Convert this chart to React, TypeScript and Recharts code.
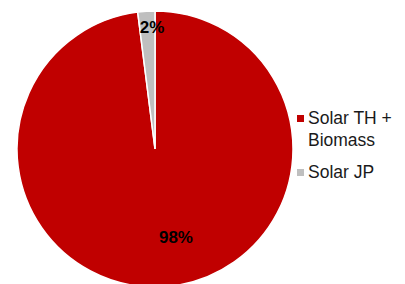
import { Cell, Legend, Pie, PieChart } from "recharts"

const sources = ["Solar TH + Biomass", "Solar JP"]
const shares = [98, 2]

const data = sources.map((name, i) => ({ name, value: shares[i] }))

const COLORS = ["#C00000", "#BFBFBF"]
// label placement tweaks (radius fraction, angle shift in degrees) to mimic Excel's best-fit
const LABEL_POS = [
  { r: 0.656, shift: 9.8 },
  { r: 0.884, shift: -2.2 },
]

const RAD = Math.PI / 180

const renderLabel = (props: any) => {
  const { cx, cy, midAngle, outerRadius, index, value } = props
  const pos = LABEL_POS[index] ?? { r: 0.7, shift: 0 }
  const a = (midAngle + pos.shift) * RAD
  const r = outerRadius * pos.r
  const x = cx + r * Math.cos(a)
  const y = cy - r * Math.sin(a)
  return (
    <text
      x={x}
      y={y}
      textAnchor="middle"
      dominantBaseline="central"
      fill="#000"
      fontWeight="bold"
      fontSize={17}
      fontFamily="Liberation Sans, Arial, sans-serif"
    >
      {`${value}%`}
    </text>
  )
}

const renderLegend = () => (
  <div style={{ fontFamily: "Liberation Sans, Arial, sans-serif", fontSize: 17.5, color: "#1a1a1a", lineHeight: "22px" }}>
    {data.map((d, i) => (
      <div key={d.name} style={{ display: "flex", alignItems: "flex-start", marginBottom: 10 }}>
        <span
          style={{
            display: "inline-block",
            width: 7,
            height: 7,
            background: COLORS[i],
            marginTop: 8,
            marginRight: 4,
            flex: "none",
          }}
        />
        <span style={{ width: 94 }}>{d.name}</span>
      </div>
    ))}
  </div>
)

export default function App() {
  return (
    <div style={{ position: "absolute", left: 0, top: 0, width: 405, height: 284, background: "#fff" }}>
      <PieChart width={405} height={284} margin={{ top: 0, right: 0, bottom: 0, left: 0 }}>
        <Pie
          data={data}
          dataKey="value"
          nameKey="name"
          cx={155}
          cy={149}
          outerRadius={138}
          startAngle={90}
          endAngle={-270}
          stroke="#fff"
          strokeWidth={1.5}
          labelLine={false}
          label={renderLabel}
          isAnimationActive={false}
        >
          {data.map((entry, index) => (
            <Cell key={`cell-${index}`} fill={COLORS[index % COLORS.length]} />
          ))}
        </Pie>
        <Legend
          layout="vertical"
          verticalAlign="middle"
          align="right"
          wrapperStyle={{ left: 297, top: 107, right: "auto", width: 105 }}
          content={renderLegend}
        />
      </PieChart>
    </div>
  )
}
